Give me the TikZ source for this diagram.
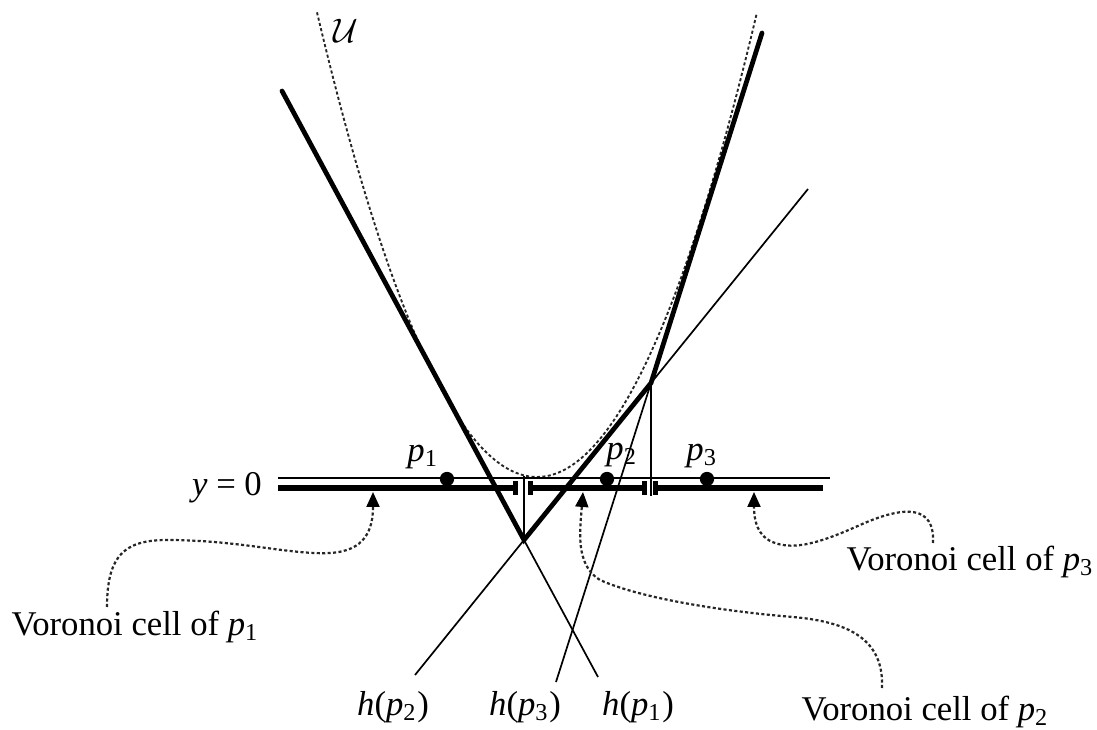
\documentclass[tikz,border=0pt]{standalone}
\usepackage{fontspec}
\setmainfont{Liberation Serif}
\usetikzlibrary{arrows.meta}
\newcommand{\vp}[1]{\textit{p}\textsubscript{#1}}
\begin{document}
\begin{tikzpicture}[x=0.294pt,y=-0.294pt,
  env/.style={line width=1.4pt, line cap=round, line join=miter},
  thinl/.style={line width=0.5pt},
  cellbar/.style={line width=1.9pt},
  dots/.style={line width=0.65pt, draw=black!85, dash pattern=on 0.9pt off 0.7pt},
  cellarrow/.style={dots, -{Triangle[length=4.4pt,width=3.8pt,color=black]}},
  site/.style={circle, fill, inner sep=0pt, minimum size=4.2pt},
  lab/.style={inner sep=0pt, font=\fontsize{10.2}{12}\selectfont}]
\useasboundingbox (0,0) rectangle (1097,730);

% key points
\coordinate (A) at (524,540);
\coordinate (B) at (651,383);
\coordinate (h1top) at (282,91);
\coordinate (h1bot) at (598,677);
\coordinate (h2bot) at (415,675);
\coordinate (h2top) at (808,189);
\coordinate (h3bot) at (556,682);
\coordinate (h3top) at (762,33);
\coordinate (Afoot) at (524,476);
\coordinate (Bfoot) at (651,496);

% paraboloid U
\draw[dots, line width=0.55pt] plot[domain=-2.2:2.2, samples=101, smooth] ({537+100*\x}, {477-96*(\x)*(\x)});

% thin tangent lines
\draw[thinl] (h1bot) -- (A);
\draw[thinl] (h2bot) -- (A);
\draw[thinl] (B) -- (h2top);
\draw[thinl] (h3bot) -- (B);
\draw[thinl] (A) -- (Afoot);
\draw[thinl] (B) -- (Bfoot);

% upper envelope
\draw[env] (h1top) -- (A) -- (B) -- (h3top);

% y = 0 line and Voronoi cells
\coordinate (yl) at (278,478);
\coordinate (yr) at (830,478);
\draw[thinl] (yl) -- (yr);
\coordinate (c1a) at (278,488); \coordinate (c1b) at (516,488);
\coordinate (c2a) at (530,488); \coordinate (c2b) at (645,488);
\coordinate (c3a) at (655,488); \coordinate (c3b) at (823,488);
\draw[cellbar] (c1a) -- (c1b);
\draw[cellbar] (c2a) -- (c2b);
\draw[cellbar] (c3a) -- (c3b);
\fill (513,481) rectangle (518,495);
\fill (528,481) rectangle (533,495);
\fill (642,481) rectangle (647,495);
\fill (653,481) rectangle (658,495);

% sites
\node[site] (s1) at (447,479) {};
\node[site] (s2) at (607,479) {};
\node[site] (s3) at (707,479) {};

% labels
\node[lab] (lp1) at (423,457) {\vp{1}};
\node[lab] (lp2) at (622,455) {\vp{2}};
\node[lab] (lp3) at (702,456) {\vp{3}};
\node[lab] (ly) at (227,488) {\textit{y} = 0};
\node[lab] (lU) at (346,31) {$\mathcal{U}$};
\node[lab] (lh2) at (393,707) {\textit{h}(\vp{2})};
\node[lab] (lh3) at (525,707) {\textit{h}(\vp{3})};
\node[lab] (lh1) at (638,707) {\textit{h}(\vp{1})};
\node[lab, anchor=west] (v1) at (11,627) {Voronoi cell of \vp{1}};
\node[lab, anchor=west] (v2) at (801,712) {Voronoi cell of \vp{2}};
\node[lab, anchor=west] (v3) at (846,562) {Voronoi cell of \vp{3}};

% dotted pointers
\coordinate (a1s) at (107,607); \coordinate (a1t) at (373,492);
\coordinate (a2s) at (882,688); \coordinate (a2t) at (583,492);
\coordinate (a3s) at (933,543); \coordinate (a3t) at (754,492);
\draw[cellarrow] (a1s) .. controls (107,555) and (125,540) .. (167,540)
  .. controls (240,540) and (290,555) .. (330,553)
  .. controls (365,551) and (373,530) .. (a1t);
\draw[cellarrow] (a2s) .. controls (884,640) and (850,622) .. (793,617)
  .. controls (720,611) and (640,598) .. (600,580)
  .. controls (575,565) and (580,530) .. (a2t);
\draw[cellarrow] (a3s) .. controls (935,505) and (905,505) .. (860,525)
  .. controls (820,543) and (795,550) .. (775,543)
  .. controls (757,537) and (754,520) .. (a3t);
\end{tikzpicture}
\end{document}
